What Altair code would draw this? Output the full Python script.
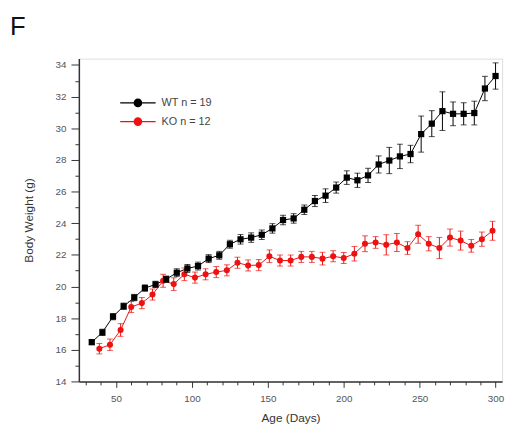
import altair as alt
import pandas as pd

# ---------------- data ----------------
series_names = ["WT n = 19", "KO n = 12"]
series_colors = ["#000000", "#ee1111"]

wt_days = [34, 41, 48, 55, 62, 69, 76, 83, 90, 97, 104, 111, 118, 125, 132, 139, 146,
           153, 160, 167, 174, 181, 188, 195, 202, 209, 216, 223, 230, 237, 244, 251,
           258, 265, 272, 279, 286, 293, 300]
wt_mean = [16.48, 17.1, 18.1, 18.75, 19.3, 19.9, 20.13, 20.46, 20.87, 21.14, 21.29, 21.76,
           21.97, 22.67, 22.98, 23.09, 23.27, 23.67, 24.2, 24.3, 24.85, 25.4, 25.74, 26.25,
           26.88, 26.71, 27.02, 27.71, 27.96, 28.22, 28.37, 29.63, 30.29, 31.08, 30.91,
           30.91, 30.96, 32.51, 33.3]
wt_sem = [0.15, 0.2, 0.2, 0.2, 0.2, 0.2, 0.2, 0.2, 0.25, 0.25, 0.25, 0.25, 0.25, 0.25,
          0.3, 0.3, 0.3, 0.3, 0.3, 0.3, 0.3, 0.35, 0.43, 0.35, 0.43, 0.45, 0.45, 0.54,
          0.83, 0.77, 0.55, 1.14, 0.82, 1.22, 0.75, 0.7, 0.75, 0.77, 0.83]

ko_days = [39, 46, 53, 60, 67, 74, 81, 88, 95, 102, 109, 116, 123, 130, 137, 144, 151,
           158, 165, 172, 179, 186, 193, 200, 207, 214, 221, 228, 235, 242, 249, 256,
           263, 270, 277, 284, 291, 298]
ko_mean = [16.07, 16.32, 17.25, 18.7, 18.95, 19.49, 20.36, 20.15, 20.77, 20.56, 20.77,
           20.91, 21.02, 21.5, 21.33, 21.35, 21.91, 21.64, 21.64, 21.87, 21.87, 21.76,
           21.91, 21.8, 22.07, 22.7, 22.78, 22.63, 22.78, 22.43, 23.3, 22.7, 22.43, 23.09,
           22.9, 22.57, 22.99, 23.52]
ko_sem = [0.33, 0.36, 0.4, 0.35, 0.35, 0.35, 0.41, 0.4, 0.4, 0.35, 0.35, 0.35, 0.35, 0.35,
          0.35, 0.35, 0.4, 0.35, 0.35, 0.35, 0.35, 0.4, 0.35, 0.35, 0.46, 0.5, 0.37, 0.64,
          0.57, 0.4, 0.57, 0.45, 0.67, 0.54, 0.6, 0.4, 0.45, 0.6]

x_tick_values = [30, 40, 50, 60, 70, 80, 90, 100, 110, 120, 130, 140, 150, 160, 170, 180,
                 190, 200, 210, 220, 230, 240, 250, 260, 270, 280, 290, 300]
y_tick_values = [14, 15, 16, 17, 18, 19, 20, 21, 22, 23, 24, 25, 26, 27, 28, 29, 30, 31,
                 32, 33, 34]

rows = []
for name, days, mean, sem in [(series_names[0], wt_days, wt_mean, wt_sem),
                              (series_names[1], ko_days, ko_mean, ko_sem)]:
    for d, m, s in zip(days, mean, sem):
        rows.append({"day": d, "weight": m, "lo": m - s, "hi": m + s, "group": name})
df = pd.DataFrame(rows)

FONT = "Liberation Sans"
AX = "#333333"

x_scale = alt.Scale(domain=[25.5, 304.3], nice=False, zero=False)
y_scale = alt.Scale(domain=[14, 34.4], nice=False, zero=False)

x_axis = alt.Axis(
    title="Age (Days)", values=x_tick_values,
    labelExpr="datum.value % 50 === 0 ? datum.label : ''",
    labelOverlap=False,
    tickSize={"condition": {"test": "datum.value % 50 === 0", "value": 6}, "value": 3.5},
    grid=False, domainColor=AX, domainWidth=1.5, tickColor=AX, tickWidth=1,
    labelFont=FONT, labelFontSize=10, labelColor="#555555", labelPadding=6,
    titleFont=FONT, titleFontSize=12, titleFontWeight="normal", titleColor=AX,
    titlePadding=10, labelFlush=False)
y_axis = alt.Axis(
    title="Body Weight (g)", values=y_tick_values,
    labelExpr="datum.value % 2 === 0 ? datum.label : ''",
    labelOverlap=False,
    tickSize={"condition": {"test": "datum.value % 2 === 0", "value": 8}, "value": 4},
    grid=False, domainColor=AX, domainWidth=1.5, tickColor=AX, tickWidth=1,
    labelFont=FONT, labelFontSize=10, labelColor="#555555", labelPadding=5,
    titleFont=FONT, titleFontSize=12, titleFontWeight="normal", titleColor=AX,
    titlePadding=20, labelFlush=False)


def X(field):
    return alt.X(f"{field}:Q", scale=x_scale, axis=x_axis)


def Y(field):
    return alt.Y(f"{field}:Q", scale=y_scale, axis=y_axis)


base = alt.Chart(df)

legend_symbol = ("M-2,0L2,0"
                 "M0.42,0A0.42,0.42,0,1,1,-0.42,0A0.42,0.42,0,1,1,0.42,0"
                 "M0.31,0A0.31,0.31,0,1,1,-0.31,0A0.31,0.31,0,1,1,0.31,0"
                 "M0.2,0A0.2,0.2,0,1,1,-0.2,0A0.2,0.2,0,1,1,0.2,0"
                 "M0.1,0A0.1,0.1,0,1,1,-0.1,0A0.1,0.1,0,1,1,0.1,0")

lines = base.mark_line(strokeWidth=1).encode(
    x=X("day"),
    y=Y("weight"),
    color=alt.Color("group:N",
                    scale=alt.Scale(domain=series_names, range=series_colors),
                    legend=alt.Legend(
                        title=None, orient="none", legendX=50, legendY=35,
                        symbolType=legend_symbol, symbolSize=324, symbolStrokeWidth=1.2,
                        labelFont=FONT, labelFontSize=11, labelColor="#444444",
                        labelOffset=14, rowPadding=2, padding=0)),
    order="day:Q",
)

layers = []
shapes = ["square", "circle"]
sizes = [40, 38]
for name, color, shape, size in zip(series_names, series_colors, shapes, sizes):
    sub = base.transform_filter(alt.datum.group == name)
    err = sub.mark_rule(color=color, strokeWidth=1).encode(
        x=X("day"), y=Y("lo"), y2="hi:Q")
    cap_lo = sub.mark_tick(color=color, orient="horizontal", size=6, thickness=1).encode(
        x=X("day"), y=Y("lo"))
    cap_hi = sub.mark_tick(color=color, orient="horizontal", size=6, thickness=1).encode(
        x=X("day"), y=Y("hi"))
    pts = sub.mark_point(shape=shape, filled=True, size=size, color=color, opacity=1).encode(
        x=X("day"), y=Y("weight"))
    layers.append((err, cap_lo, cap_hi, pts))

panel_letter = alt.Chart(pd.DataFrame({"t": ["F"]})).mark_text(
    font=FONT, fontSize=26, align="left", baseline="alphabetic", color="#111111"
).encode(text="t:N", x=alt.value(-70), y=alt.value(-24))

ko_layers = layers[1]
wt_layers = layers[0]

chart = alt.layer(
    lines, *ko_layers, *wt_layers, panel_letter
).properties(
    width=430, height=328,
    padding={"left": 72, "top": 48, "right": 5, "bottom": 50},
    autosize="none",
).configure_view(stroke=None).configure_axis(labelOverlap=False).configure(background="white")

chart.save("out.html", embed_options={"renderer": "svg", "actions": False})
